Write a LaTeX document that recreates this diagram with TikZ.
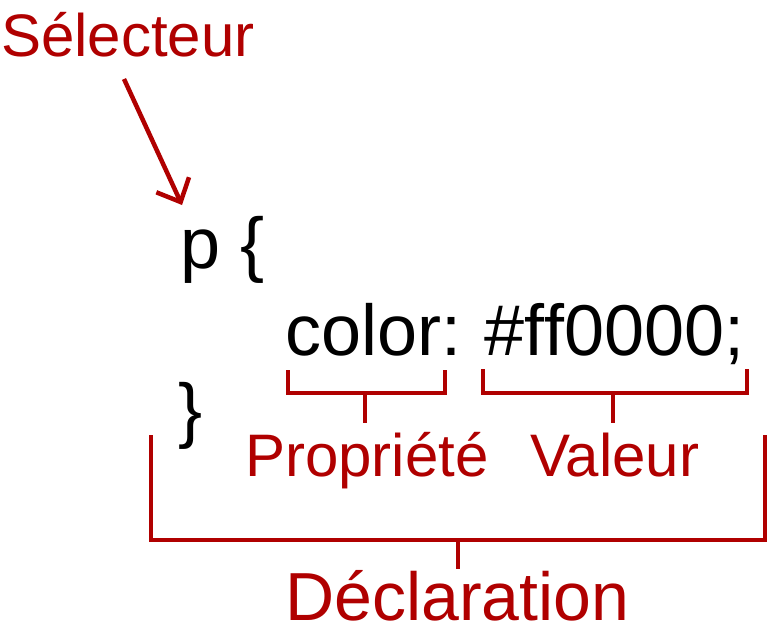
\documentclass[tikz,border=0pt]{standalone}
\usepackage{fontspec}
\setmainfont{Liberation Sans}
\usetikzlibrary{arrows.meta}
\definecolor{lblred}{RGB}{176,0,0}
\tikzset{
  redlbl/.style={anchor=base west, inner sep=0pt, text=lblred, font=\fontsize{60}{72}\selectfont},
  code/.style={anchor=base west, inner sep=0pt, text=black, font=\fontsize{72}{86}\selectfont},
  brk/.style={draw=lblred, line width=4.5pt, line join=miter},
  pointer/.style={draw=lblred, line width=4.5pt, -{Straight Barb[length=19pt,width=36pt]}}
}
\begin{document}
\begin{tikzpicture}[x=1pt,y=-1pt]
\useasboundingbox (0,0) rectangle (768,637);
% labels
\node[redlbl] (sel) at (1,56) {Sélecteur};
\node[code] (popen) at (180,268) {p \{};
\node[code] (prop) at (285,355) {color:};
\node[code] (val) at (484,355) {\#f\kern0pt f0000;};
\node[code] (pclose) at (178,434) {\}};
\node[redlbl] (lprop) at (245,476) {Propriété};
\node[redlbl] (lval) at (530,476) {Valeur};
\node[redlbl, font=\fontsize{68}{80}\selectfont] (ldecl) at (285,620) {Déclaration};
% arrow
\coordinate (a1) at (124,79);
\coordinate (a2) at (182,205);
\draw[pointer] (a1) -- (a2);
% property bracket
\coordinate (p1) at (288,370);
\coordinate (p2) at (445,370);
\coordinate (pm) at (365,393);
\draw[brk] (p1) |- (pm) -| (p2);
\draw[brk] (pm) -- ++(0,30);
% value bracket
\coordinate (v1) at (483,369);
\coordinate (v2) at (747,369);
\coordinate (vm) at (613,393);
\draw[brk] (v1) |- (vm) -| (v2);
\draw[brk] (vm) -- ++(0,30);
% declaration bracket
\coordinate (d1) at (151,435);
\coordinate (d2) at (765,435);
\coordinate (dm) at (458,540);
\draw[brk] (d1) |- (dm) -| (d2);
\draw[brk] (dm) -- ++(0,29);
\end{tikzpicture}
\end{document}
